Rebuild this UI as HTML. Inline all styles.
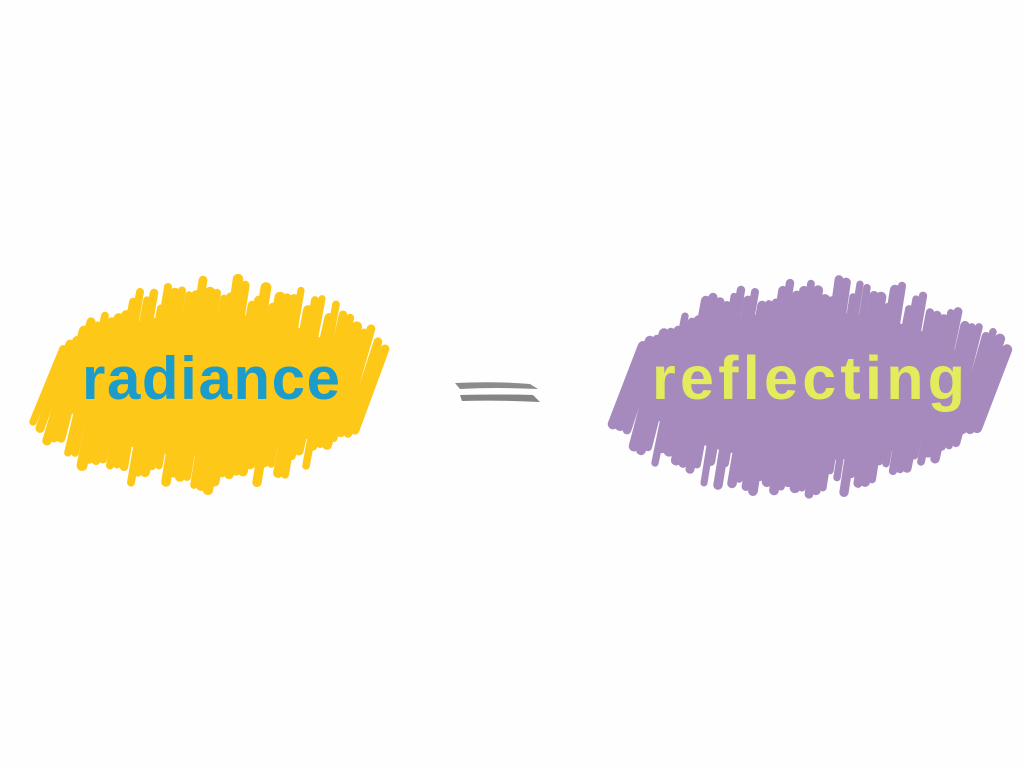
<!DOCTYPE html>
<html><head><meta charset="utf-8"><style>
html,body{margin:0;padding:0;background:#fefefe;width:1024px;height:768px;overflow:hidden}
svg{position:absolute;left:0;top:0}
text{font-family:"Liberation Sans",sans-serif;font-weight:bold}
</style></head><body>
<svg id="s" width="1024" height="768" viewBox="0 0 1024 768">
<g id="y"></g><g id="p"></g>
<path d="M455 383 Q495 381 530 384 L538 389 Q495 387 460 389 Z" fill="#8c8c8c"/>
<path d="M460 395 Q500 394 533 395 L540 402 Q500 400 462 401 Z" fill="#858585"/>
<text x="82" y="399" font-size="60" fill="#1b9ccb" textLength="258" lengthAdjust="spacing">radiance</text>
<text x="652" y="399" font-size="61" fill="#e3ec5c" textLength="313" lengthAdjust="spacing">reflecting</text>
</svg>
<script>
function blob(id,x0,x1,yt,yb,color,seed){
  var g=document.getElementById(id),ns="http://www.w3.org/2000/svg",s=seed;
  function r(){s=(s*9301+49297)%233280;return s/233280;}
  var cx=(x0+x1)/2,cy=(yt+yb)/2,rx=(x1-x0)/2-15,ry=(yb-yt)/2-35;
  var e=document.createElementNS(ns,"ellipse");
  e.setAttribute("cx",cx);e.setAttribute("cy",cy);e.setAttribute("rx",rx);e.setAttribute("ry",ry);
  e.setAttribute("fill",color);g.appendChild(e);
  for(var x=x0;x<x1;x+=7){
    var t=(x-cx)/(rx+15),h=Math.sqrt(Math.max(0,1-t*t*0.85));
    var top=cy-(ry+35)*h*(0.75+0.25*r()),bot=cy+(ry+35)*h*(0.75+0.25*r());
    var l=document.createElementNS(ns,"line");
    l.setAttribute("x1",x+18);l.setAttribute("y1",top);
    l.setAttribute("x2",x-12);l.setAttribute("y2",bot);
    l.setAttribute("stroke",color);l.setAttribute("stroke-width",7+4*r());
    l.setAttribute("stroke-linecap","round");g.appendChild(l);
  }
}
blob("y",45,372,278,492,"#fdc817",7);
blob("p",625,990,276,496,"#a78abd",13);
</script>
</body></html>
